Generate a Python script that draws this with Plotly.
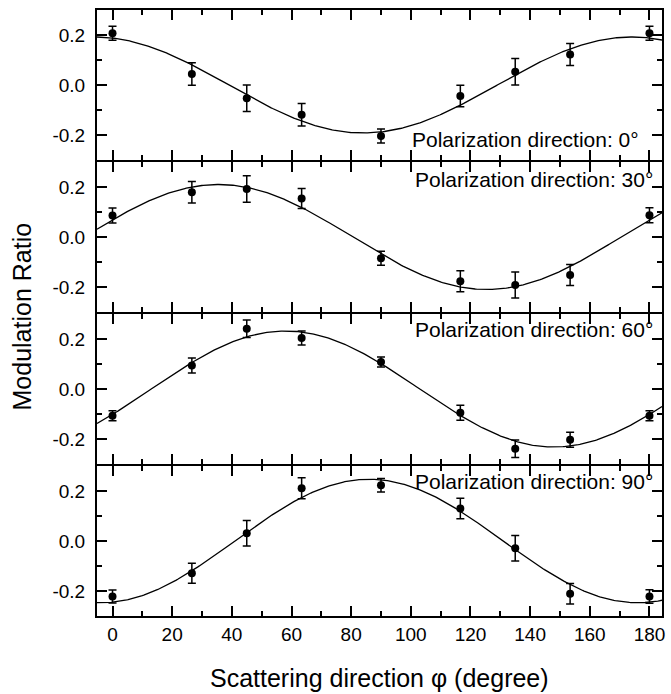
import numpy as np
import plotly.graph_objects as go
from plotly.subplots import make_subplots

# Scattering directions (degree)
phi = [0, 26.6, 45, 63.4, 90, 116.6, 135, 153.4, 180]

# Measured modulation ratios per polarization direction
pol_labels = ["0", "30", "60", "90"]
mr_0 = [0.207, 0.044, -0.053, -0.119, -0.204, -0.044, 0.053, 0.122, 0.207]
err_0 = [0.028, 0.045, 0.053, 0.045, 0.028, 0.043, 0.053, 0.044, 0.028]
mr_30 = [0.086, 0.179, 0.192, 0.154, -0.085, -0.177, -0.192, -0.152, 0.087]
err_30 = [0.030, 0.043, 0.053, 0.040, 0.028, 0.042, 0.052, 0.042, 0.030]
mr_60 = [-0.107, 0.094, 0.241, 0.204, 0.108, -0.095, -0.239, -0.203, -0.107]
err_60 = [0.020, 0.030, 0.035, 0.028, 0.020, 0.030, 0.035, 0.030, 0.020]
mr_90 = [-0.222, -0.129, 0.031, 0.211, 0.223, 0.130, -0.029, -0.211, -0.222]
err_90 = [0.026, 0.040, 0.051, 0.042, 0.027, 0.041, 0.051, 0.041, 0.027]

# Fitted modulation curve parameters: A*cos(2*(phi - phi_peak))
fit_amplitude = [0.192, 0.210, 0.232, 0.247]
fit_peak = [174.0, 35.5, 58.0, 86.0]

# Annotation placement (data coords)
label_x = [177, 182, 182, 182]
label_y = [-0.216, 0.229, 0.237, 0.237]

x_range = [-5.2, 184.2]
x_ticks = [0, 20, 40, 60, 80, 100, 120, 140, 160, 180]
y_ticks = [-0.2, 0.0, 0.2]
y_ticktext = ["-0.2", "0.0", "0.2"]

values = [mr_0, mr_30, mr_60, mr_90]
errors = [err_0, err_30, err_60, err_90]

FONT = "Liberation Sans, Arial, sans-serif"

fig = make_subplots(rows=4, cols=1, shared_xaxes=True, vertical_spacing=2 / 606)

phi_fine = np.linspace(x_range[0], x_range[1], 400)
for i in range(4):
    r = i + 1
    curve = fit_amplitude[i] * np.cos(np.radians(2 * (phi_fine - fit_peak[i])))
    fig.add_trace(go.Scatter(x=phi_fine, y=curve, mode="lines",
                             line=dict(color="black", width=1.3),
                             showlegend=False, hoverinfo="skip"), row=r, col=1)
    fig.add_trace(go.Scatter(x=phi, y=values[i], mode="markers",
                             marker=dict(color="black", size=8),
                             error_y=dict(type="data", array=errors[i], visible=True,
                                          color="black", thickness=1.5, width=4),
                             showlegend=False), row=r, col=1)
    yref = "y" if r == 1 else f"y{r}"
    xref = "x" if r == 1 else f"x{r}"
    fig.add_annotation(x=label_x[i], y=label_y[i], xref=xref, yref=yref,
                       text=f"Polarization direction: {pol_labels[i]}°",
                       showarrow=False, xanchor="right", yanchor="middle",
                       font=dict(family=FONT, size=21, color="black"))
    fig.update_yaxes(range=[-0.3, 0.3], tickvals=y_ticks, ticktext=y_ticktext,
                     ticks="inside", ticklen=10, tickwidth=1.8, tickcolor="black",
                     showline=True, linewidth=2, linecolor="black", mirror="allticks",
                     showgrid=False, zeroline=False,
                     minor=dict(ticks="inside", ticklen=5, tickwidth=1.8, dtick=0.1,
                                tick0=0, tickcolor="black", showgrid=False),
                     tickfont=dict(family=FONT, size=19, color="black"),
                     ticklabelstandoff=6,
                     row=r, col=1)
    fig.update_xaxes(range=x_range, tickvals=x_ticks,
                     ticks="inside", ticklen=10, tickwidth=1.8, tickcolor="black",
                     showline=True, linewidth=2, linecolor="black", mirror="allticks",
                     showgrid=False, zeroline=False,
                     minor=dict(ticks="inside", ticklen=5, tickwidth=1.8, dtick=10,
                                tick0=0, tickcolor="black", showgrid=False),
                     tickfont=dict(family=FONT, size=19, color="black"),
                     row=r, col=1)

fig.add_annotation(text="Modulation Ratio", xref="paper", yref="paper",
                   x=-0.133, y=0.494, textangle=-90, showarrow=False,
                   xanchor="center", yanchor="middle",
                   font=dict(family=FONT, size=25, color="black"))
fig.add_annotation(text="Scattering direction φ (degree)", xref="paper", yref="paper",
                   x=0.5, y=-0.102, showarrow=False,
                   xanchor="center", yanchor="middle",
                   font=dict(family=FONT, size=25, color="black"))

fig.update_layout(width=671, height=694,
                  margin=dict(l=97, r=6, t=10, b=78),
                  paper_bgcolor="white", plot_bgcolor="white",
                  font=dict(family=FONT, color="black"))

fig.write_html("out.html",
               config={"displayModeBar": False},
               post_script="document.body.style.margin='0';document.body.style.overflow='hidden';")
